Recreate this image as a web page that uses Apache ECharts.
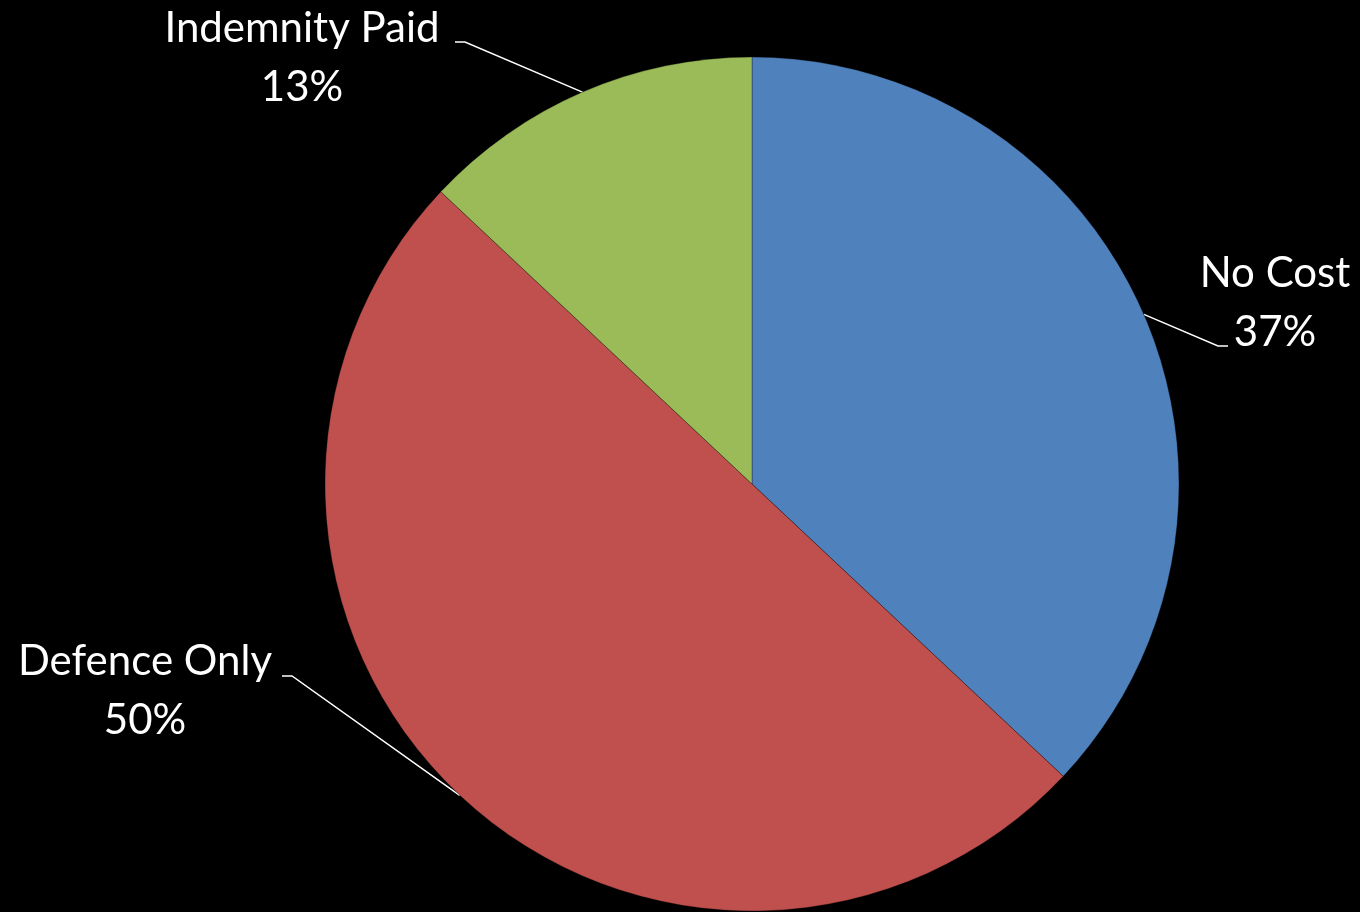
<!DOCTYPE html>
<html>
<head>
<meta charset="utf-8">
<title>Claims by Cost Outcome</title>
<script src="https://cdn.jsdelivr.net/npm/echarts@6/dist/echarts.min.js"></script>
<style>
  html, body { margin: 0; padding: 0; background: #000; }
  #chart { width: 1360px; height: 912px; }
</style>
</head>
<body>
<div id="chart"></div>
<script>
// Outcome categories and their share of claims (percent)
const categories = ['No Cost', 'Defence Only', 'Indemnity Paid'];
const shares = [37, 50, 13];
const sliceColors = ['#4F81BD', '#C0504D', '#9BBB59'];

// Label layout: centre of each two-line label block, and where its leader
// line meets the label (x, y, side: +1 = label to the right, -1 = to the left)
const labelSpots = [[1275, 303], [145, 691], [302, 58]];
const leaderEnds = [[1228, 346, 1], [282, 676, -1], [455, 42, -1]];
const leaderTail = 10;

const chart = echarts.init(document.getElementById('chart'), null, { renderer: 'canvas' });

chart.setOption({
  backgroundColor: '#000000',
  animation: false,
  series: [{
    type: 'pie',
    center: [752, 484],
    radius: [0, 427],
    startAngle: 90,
    clockwise: true,
    avoidLabelOverlap: false,
    data: categories.map((name, i) => ({
      name: name,
      value: shares[i],
      itemStyle: { color: sliceColors[i] }
    })),
    itemStyle: { borderColor: 'rgba(0,0,0,0.3)', borderWidth: 1 },
    label: {
      show: true,
      position: 'outside',
      formatter: '{b}\n{d}%',
      color: '#ffffff',
      fontFamily: 'Lato, "Open Sans", sans-serif',
      fontSize: 42,
      lineHeight: 59,
      align: 'center'
    },
    labelLine: {
      show: true,
      length: 20,
      length2: 10,
      smooth: false,
      lineStyle: { color: '#ffffff', width: 1.5 }
    },
    labelLayout: function (params) {
      const i = params.dataIndex;
      const p = labelSpots[i];
      const e = leaderEnds[i];
      const out = { x: p[0], y: p[1], align: 'center', verticalAlign: 'middle' };
      // leader starts at the slice's outer-arc midpoint, as the pie layout computes it
      if (params.labelLinePoints && params.labelLinePoints.length) {
        const start = params.labelLinePoints[0];
        out.labelLinePoints = [
          [start[0], start[1]],
          [e[0] - e[2] * leaderTail, e[1]],
          [e[0], e[1]]
        ];
      }
      return out;
    },
    emphasis: { disabled: true }
  }]
});
</script>
</body>
</html>
